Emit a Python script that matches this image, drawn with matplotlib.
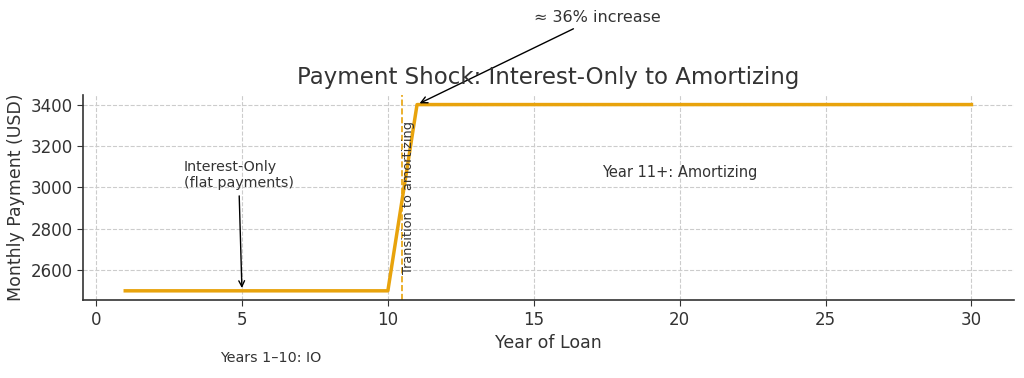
import matplotlib
matplotlib.use("Agg")
import matplotlib.pyplot as plt

years = list(range(1, 31))
payments = [2500] * 10 + [3400] * 20
transition_year = 10.5

title = "Payment Shock: Interest-Only to Amortizing"
xlabel = "Year of Loan"
ylabel = "Monthly Payment (USD)"

txt_color = "#333333"
line_color = "#E8A30C"

plt.rcParams["font.family"] = ["DejaVu Sans"]
fig, ax = plt.subplots(figsize=(10.24, 3.78), dpi=100)
fig.subplots_adjust(left=0.081, right=0.99, top=0.748, bottom=0.206)

ax.plot(years, payments, color=line_color, lw=2.5, zorder=3)
ax.axvline(transition_year, color=line_color, lw=1.2, ls="--", zorder=2)

ax.set_title(title, fontsize=16.5, color=txt_color, pad=8)
ax.set_xlabel(xlabel, fontsize=12.5, color=txt_color)
ax.set_ylabel(ylabel, fontsize=12.5, color=txt_color)
ax.set_xticks([0, 5, 10, 15, 20, 25, 30])
ax.set_yticks([2600, 2800, 3000, 3200, 3400])
ax.tick_params(labelsize=12, colors="#333333", length=4)
ax.grid(True, ls="--", color="#cccccc", lw=0.8)
for s in ["top", "right"]:
    ax.spines[s].set_visible(False)
for s in ["left", "bottom"]:
    ax.spines[s].set_color("#333333")
    ax.spines[s].set_linewidth(1.2)

ax.annotate("≈ 36% increase", xy=(11, 3400), xytext=(15, 3800),
            fontsize=11.5, color=txt_color, annotation_clip=False,
            arrowprops=dict(arrowstyle="->", color="black", lw=1))
ax.annotate("Interest-Only\n(flat payments)", xy=(5, 2500), xytext=(3, 3000),
            fontsize=10.3, color=txt_color,
            arrowprops=dict(arrowstyle="->", color="black", lw=1))
ax.text(transition_year, 2580, "Transition to amortizing", rotation=90,
        ha="left", va="bottom", fontsize=9.3, color=txt_color)
ax.text(20, 3050, "Year 11+: Amortizing", ha="center", fontsize=10.5, color=txt_color)
ax.text(6, 2175, "Years 1–10: IO", ha="center", va="center", fontsize=10.3,
        color=txt_color, clip_on=False)

fig.savefig("out.png", dpi=100)
